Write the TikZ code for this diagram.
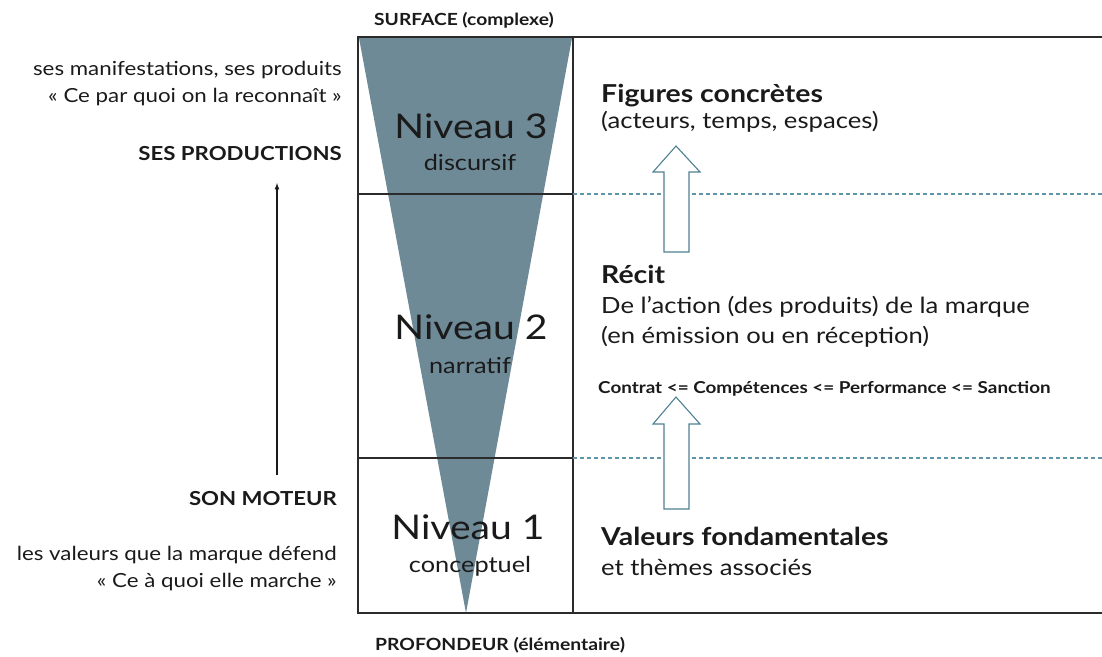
\documentclass[tikz,border=0pt]{standalone}
\usepackage{fontspec}
\setmainfont{Lato}[FakeStretch=1.15]
\definecolor{tricol}{HTML}{6F8A97}
\definecolor{inkcol}{HTML}{1A1A1A}
\definecolor{framecol}{HTML}{2B2B2B}
\definecolor{dashcol}{HTML}{5F95A8}
\definecolor{arrcol}{HTML}{4F8192}
\begin{document}
\begin{tikzpicture}[x=1pt,y=-1pt,
  txt/.style={inner sep=0pt,text=inkcol},
  niv/.style={txt,anchor=base,font=\fontsize{34}{40}\selectfont},
  sub/.style={txt,anchor=base,font=\fontsize{22}{24}\selectfont},
  head/.style={txt,anchor=base west,font=\fontsize{24.7}{28}\selectfont\bfseries},
  body/.style={txt,anchor=base west,font=\fontsize{22.3}{24}\selectfont},
  small/.style={txt,anchor=base west,font=\fontsize{16.4}{19}\selectfont\bfseries},
  lbody/.style={txt,anchor=base east,font=\fontsize{19.4}{22}\selectfont},
  lhead/.style={txt,anchor=base east,font=\fontsize{19.3}{22}\selectfont\bfseries},
  edgeline/.style={draw=framecol,line width=1.4pt},
  dshline/.style={draw=dashcol,line width=1.2pt,dash pattern=on 4pt off 3pt},
  hollow/.style={draw=arrcol,line width=1.1pt,fill=white,line join=miter},
]
\useasboundingbox (0,0) rectangle (1102,656);
% triangle
\fill[tricol] (359,38) -- (572,38) -- (466,613) -- cycle;
% frame
\coordinate (tl) at (358,37);
\coordinate (tr) at (1102,37);
\coordinate (bl) at (358,613);
\coordinate (br) at (1102,613);
\coordinate (dt) at (573,37);
\coordinate (db) at (573,613);
\coordinate (h3l) at (358,194);
\coordinate (h3m) at (573,194);
\coordinate (h3r) at (1102,194);
\coordinate (h1l) at (358,458);
\coordinate (h1m) at (573,458);
\coordinate (h1r) at (1102,458);
\draw[edgeline] (tr) -- (tl) -- (bl) -- (br);
\draw[edgeline] (dt) -- (db);
\draw[draw=framecol,line width=1.1pt] (h3l) -- (h3m);
\draw[draw=framecol,line width=1.1pt] (h1l) -- (h1m);
\draw[dshline] (h3m) -- (h3r);
\draw[dshline] (h1m) -- (h1r);
% hollow arrows
\draw[hollow] (664,252) -- (664,172) -- (653,172) -- (676,146) -- (700,172) -- (689,172) -- (689,252) -- cycle;
\draw[hollow] (664,509) -- (664,424) -- (653,424) -- (676,397) -- (700,424) -- (689,424) -- (689,509) -- cycle;
% levels
\node[niv] (n3) at (471,138) {Niveau 3};
\node[sub] (n3s) at (470,170) {discursif};
\node[niv] (n2) at (471,339) {Niveau 2};
\node[sub] (n2s) at (470,373) {narratif};
\node[niv] (n1) at (468,539) {Niveau 1};
\node[sub] (n1s) at (470,572) {conceptuel};
% top/bottom labels
\node[small,font=\fontsize{16.7}{20}\selectfont\bfseries] (surf) at (374,25) {SURFACE (complexe)};
\node[small,font=\fontsize{16.8}{20}\selectfont\bfseries] (prof) at (375,650) {PROFONDEUR (élémentaire)};
% right texts
\node[head] (fig) at (601,102) {Figures concrètes};
\node[body] (figb) at (601,128) {(acteurs, temps, espaces)};
\node[head] (rec) at (601,283) {Récit};
\node[body] (recb) at (601,313) {De l’action (des produits) de la marque};
\node[body] (recc) at (601,343) {(en émission ou en réception)};
\node[small] (ctr) at (598,393) {Contrat <= Compétences <= Performance <= Sanction};
\node[head] (val) at (601,545) {Valeurs fondamentales};
\node[body] (valb) at (601,575) {et thèmes associés};
% left texts
\node[lbody] (man) at (342,75) {ses manifestations, ses produits};
\node[lbody] (manq) at (342,102) {« Ce par quoi on la reconnaît »};
\node[lhead] (prod) at (342,160) {SES PRODUCTIONS};
\node[lhead] (mot) at (337,505) {SON MOTEUR};
\node[lbody] (vals) at (337,560) {les valeurs que la marque défend};
\node[lbody] (valq) at (337,587) {« Ce à quoi elle marche »};
\coordinate (ab) at (277,475);
\coordinate (at) at (277,183);
\draw[-latex,line width=1.2pt,color=inkcol] (ab) -- (at);
\end{tikzpicture}
\end{document}
